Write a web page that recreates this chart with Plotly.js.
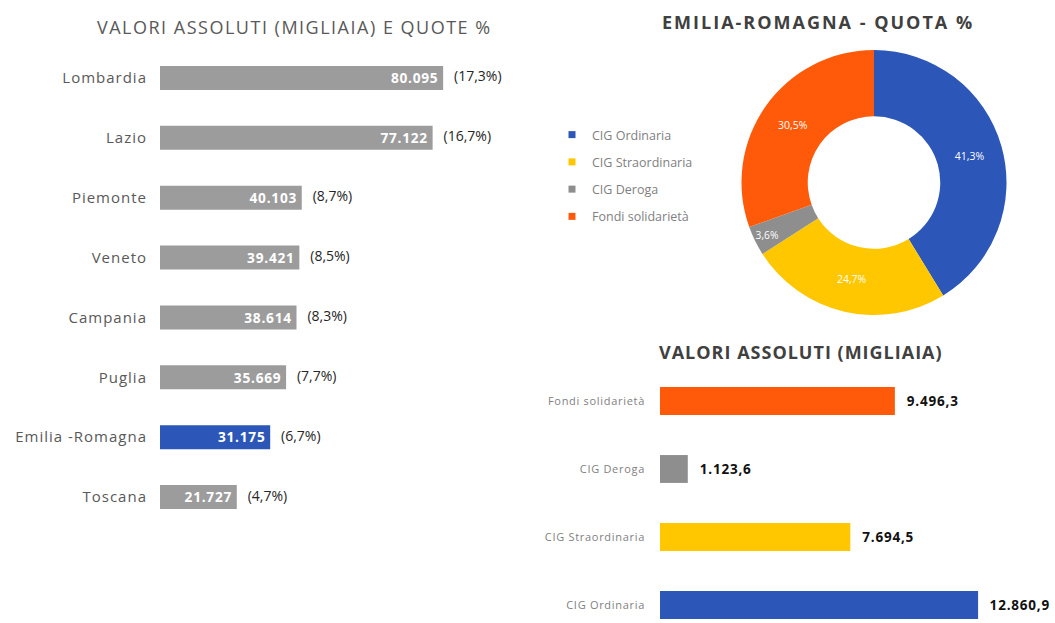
<!DOCTYPE html>
<html>
<head>
<meta charset="utf-8">
<script src="https://cdn.plot.ly/plotly-3.0.1.min.js"></script>
<style>
html,body{margin:0;padding:0;background:#fff;}
#chart{width:1055px;height:623px;}
#chart .ytick text{letter-spacing:1px;}
#chart .y2tick text{letter-spacing:0.7px;}
#chart .x2y2 text.bartext{letter-spacing:0.8px;}
#chart .xy text.bartext{letter-spacing:0.8px;}
</style>
</head>
<body>
<div id="chart"></div>
<script>
// ---- Data ----
const regions = ["Lombardia", "Lazio", "Piemonte", "Veneto", "Campania", "Puglia", "Emilia -Romagna", "Toscana"];
const regionValues = [80095, 77122, 40103, 39421, 38614, 35669, 31175, 21727];
const regionShares = [17.3, 16.7, 8.7, 8.5, 8.3, 7.7, 6.7, 4.7];

const cigTypes = ["CIG Ordinaria", "CIG Straordinaria", "CIG Deroga", "Fondi solidarietà"];
const cigValues = [12860.9, 7694.5, 1123.6, 9496.3];

const titleLeft = "VALORI ASSOLUTI (MIGLIAIA) E QUOTE %";
const titleDonut = "EMILIA-ROMAGNA - QUOTA %";
const titleBars = "VALORI ASSOLUTI (MIGLIAIA)";

// ---- Styles ----
const FONT = "'Open Sans', Lato, sans-serif";
const GRAY = "#9c9c9c";
const BLUE = "#2c56b8";
const cigColors = [BLUE, "#ffc700", "#8e8e8e", "#ff5a0a"];
const W = 1055, H = 623;
const px = v => v / W;
const py = v => 1 - v / H;
const NB = "\u00a0";

const regionColors = regions.map(r => r.indexOf("Emilia") === 0 ? BLUE : GRAY);

const traces = [
  {
    type: "bar", orientation: "h",
    x: regionValues, y: regions,
    xaxis: "x", yaxis: "y",
    marker: {color: regionColors},
    width: 0.4,
    texttemplate: "%{x:,.0f}" + NB,
    textposition: "inside", insidetextanchor: "end",
    textfont: {color: "#ffffff", size: 14.5, family: FONT, weight: "bold"},
    hoverinfo: "skip", showlegend: false, cliponaxis: false
  },
  {
    type: "scatter", mode: "text",
    x: regionValues, y: regions,
    xaxis: "x", yaxis: "y",
    text: regionShares.map(s => NB + NB + NB + "(" + s.toFixed(1).replace(".", ",") + "%)"),
    textposition: "middle right",
    textfont: {color: "#262626", size: 14, family: FONT},
    hoverinfo: "skip", showlegend: false, cliponaxis: false
  },
  {
    type: "pie",
    labels: cigTypes, values: cigValues,
    hole: 0.5, sort: false, direction: "clockwise", rotation: 0,
    marker: {colors: cigColors, line: {color: "#ffffff", width: 0}},
    texttemplate: "%{percent:.1%}",
    textposition: "inside", insidetextorientation: "horizontal",
    textfont: {color: "#ffffff", size: 10.5, family: FONT},
    domain: {x: [px(740), px(1008)], y: [py(315), py(50)]},
    hoverinfo: "skip", showlegend: false
  },
  {
    type: "bar", orientation: "h",
    x: cigValues, y: cigTypes,
    xaxis: "x2", yaxis: "y2",
    marker: {color: cigColors},
    width: 0.41,
    texttemplate: NB + NB + NB + "%{x:,.1f}",
    textposition: "outside",
    textfont: {color: "#111111", size: 13.5, family: FONT, weight: "bold"},
    hoverinfo: "skip", showlegend: false, cliponaxis: false
  }
];

// legend entries for the donut (one per category, no drawn data)
cigTypes.forEach((name, i) => {
  traces.push({
    type: "scatter", mode: "markers", name: name,
    x: [null], y: [null], xaxis: "x2", yaxis: "y2",
    marker: {symbol: "square", size: 7, color: cigColors[i]},
    legendgroup: "g" + i, showlegend: true, hoverinfo: "skip"
  });
});

const layout = {
  width: W, height: H,
  margin: {l: 0, r: 0, t: 0, b: 0},
  paper_bgcolor: "#ffffff", plot_bgcolor: "rgba(0,0,0,0)",
  separators: ",.",
  font: {family: FONT, color: "#595959"},
  showlegend: true,
  legend: {
    x: px(552), y: py(120), xanchor: "left", yanchor: "top",
    font: {size: 12.5, color: "#7f7f7f", family: FONT},
    itemwidth: 30, traceorder: "grouped", tracegroupgap: 8,
    bgcolor: "rgba(0,0,0,0)"
  },
  xaxis: {
    domain: [px(160), px(513.5)], range: [0, 100000],
    showgrid: false, zeroline: false, showline: false, showticklabels: false, fixedrange: true
  },
  yaxis: {
    domain: [py(527), py(48)], range: [7.5, -0.5], type: "category",
    showgrid: false, zeroline: false, showline: false, ticks: "",
    ticklabelstandoff: 12,
    tickfont: {size: 15, color: "#595959", family: FONT}, fixedrange: true
  },
  xaxis2: {
    domain: [px(660), px(1031)], range: [0, 15000], anchor: "y2",
    showgrid: false, zeroline: false, showline: false, showticklabels: false, fixedrange: true
  },
  yaxis2: {
    domain: [0, py(367)], range: [-0.265, 3.5], type: "category", anchor: "x2",
    showgrid: false, zeroline: false, showline: false, ticks: "",
    ticklabelstandoff: 14,
    tickfont: {size: 11, color: "#7f7f7f", family: FONT}, fixedrange: true
  },
  annotations: [
    {text: "<span style='letter-spacing:1.5px'>" + titleLeft + "</span>", x: px(294), y: py(27), xref: "paper", yref: "paper",
     showarrow: false, xanchor: "center", yanchor: "middle",
     font: {size: 18, color: "#595959", family: FONT}},
    {text: "<b><span style='letter-spacing:2px'>" + titleDonut + "</span></b>", x: px(818), y: py(22), xref: "paper", yref: "paper",
     showarrow: false, xanchor: "center", yanchor: "middle",
     font: {size: 18, color: "#404040", family: FONT}},
    {text: "<b><span style='letter-spacing:1px'>" + titleBars + "</span></b>", x: px(801), y: py(352), xref: "paper", yref: "paper",
     showarrow: false, xanchor: "center", yanchor: "middle",
     font: {size: 18, color: "#404040", family: FONT}}
  ]
};

Plotly.newPlot("chart", traces, layout, {displayModeBar: false, staticPlot: true});
</script>
</body>
</html>
